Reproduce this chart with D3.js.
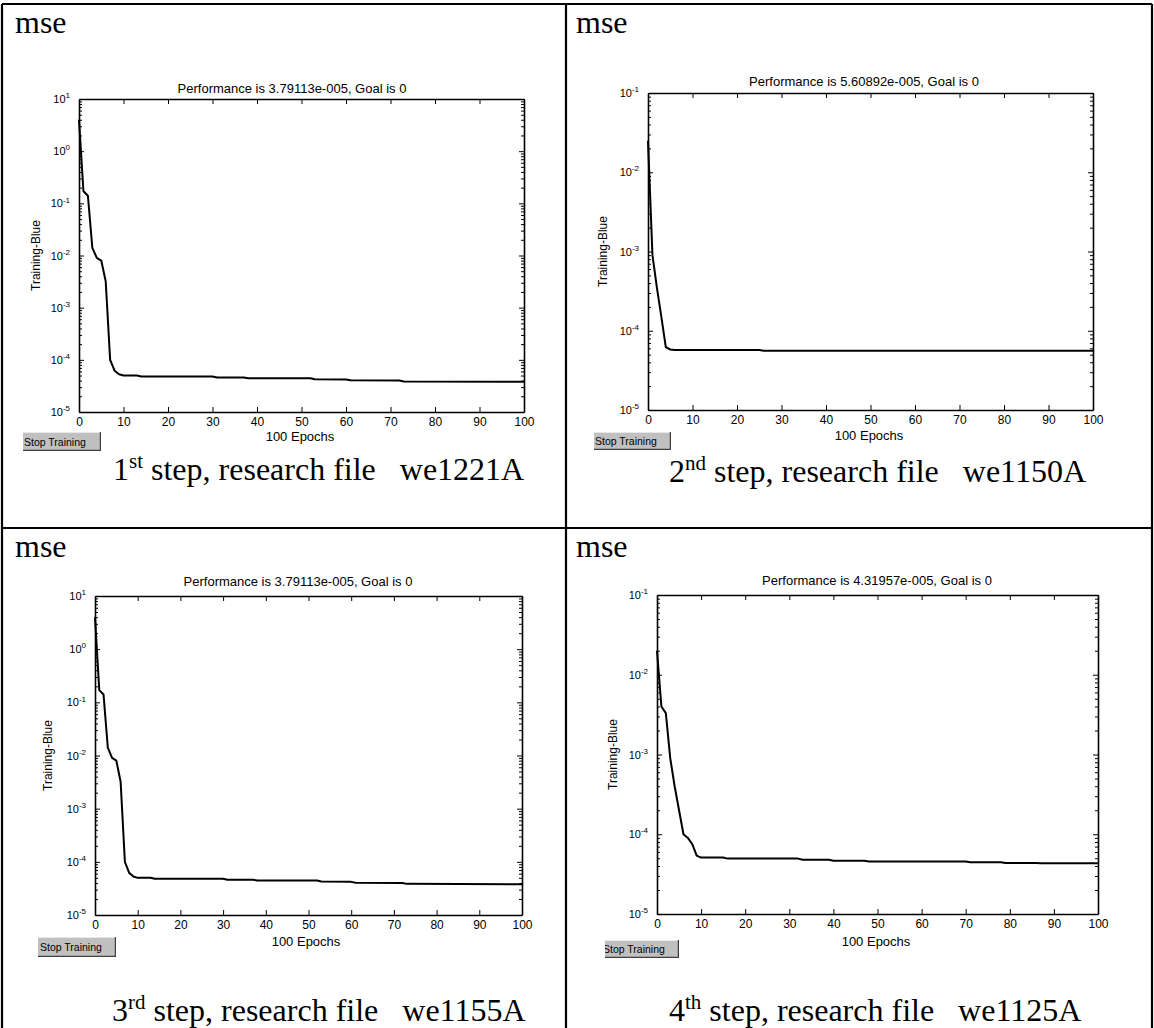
<!DOCTYPE html>
<html>
<head>
<meta charset="utf-8">
<script src="https://cdn.jsdelivr.net/npm/d3@7"></script>
<style>
  body { margin: 0; background: #fff; }
  text { font-family: 'Liberation Sans', Arial, sans-serif; }
  .serif { font-family: 'Liberation Serif', 'Times New Roman', serif; }
</style>
</head>
<body>
<div class="container"></div>
<script>
const WIDTH = 1154;
const HEIGHT = 1028;

// x axis of every plot
const epochTicks = [0, 10, 20, 30, 40, 50, 60, 70, 80, 90, 100];

// y ranges (log)
const yRange1 = [1e-5, 1e1];
const yRange2 = [1e-5, 1e-1];
const yRange3 = [1e-5, 1e1];
const yRange4 = [1e-5, 1e-1];

// training curves (epoch, mse)
const epochs1 = [0, 1, 2, 3, 4, 5, 6, 7, 8, 9, 10, 13, 14, 30, 31, 37, 38, 52, 53, 60, 61, 72, 73, 100];
const perf1 = [4, 0.17, 0.14, 0.014, 0.009, 0.008, 0.0032, 1.0e-4, 6.2e-5, 5.3e-5, 5.0e-5, 5.0e-5, 4.8e-5, 4.8e-5,
  4.6e-5, 4.6e-5, 4.45e-5, 4.45e-5, 4.25e-5, 4.2e-5, 4.05e-5, 4.0e-5, 3.85e-5, 3.79e-5];

const epochs2 = [0, 1, 2, 3, 4, 5, 6, 25, 26, 100];
const perf2 = [0.025, 9e-4, 3.5e-4, 1.5e-4, 6.2e-5, 5.8e-5, 5.7e-5, 5.7e-5, 5.61e-5, 5.61e-5];

const epochs3 = [0, 1, 2, 3, 4, 5, 6, 7, 8, 9, 10, 13, 14, 30, 31, 37, 38, 52, 53, 60, 61, 72, 73, 100];
const perf3 = [4, 0.17, 0.14, 0.014, 0.009, 0.008, 0.0032, 1.0e-4, 6.2e-5, 5.3e-5, 5.0e-5, 5.0e-5, 4.8e-5, 4.8e-5,
  4.6e-5, 4.6e-5, 4.45e-5, 4.45e-5, 4.25e-5, 4.2e-5, 4.05e-5, 4.0e-5, 3.85e-5, 3.79e-5];

const epochs4 = [0, 1, 2, 3, 4, 5, 6, 7, 8, 9, 10, 15, 16, 32, 33, 39, 40, 47, 48, 70, 71, 78, 79, 86, 87, 100];
const perf4 = [0.02, 0.004, 0.0033, 9e-4, 4e-4, 2e-4, 1.0e-4, 9e-5, 7.5e-5, 5.4e-5, 5.1e-5, 5.1e-5, 4.95e-5, 4.95e-5,
  4.8e-5, 4.8e-5, 4.65e-5, 4.65e-5, 4.55e-5, 4.55e-5, 4.45e-5, 4.45e-5, 4.35e-5, 4.35e-5, 4.32e-5, 4.32e-5];

// texts
const titles = ['Performance is 3.79113e-005, Goal is 0', 'Performance is 5.60892e-005, Goal is 0',
  'Performance is 3.79113e-005, Goal is 0', 'Performance is 4.31957e-005, Goal is 0'];
const ordinals = ['1', '2', '3', '4'];
const suffixes = ['st', 'nd', 'rd', 'th'];
const files = ['we1221A', 'we1150A', 'we1155A', 'we1125A'];

// layout of each cell (pixels)
var layout = [
  {mse: [15, 33], plot: [79, 99, 524, 412], titleX: 292, titleY: 93, ylabX: 40, xlabX: 300, xlabY: 441,
   btn: [23, 432, 78, 19, 0], cap: [113, 480]},
  {mse: [576, 33], plot: [648, 93, 1093, 410], titleX: 864, titleY: 86, ylabX: 607, xlabX: 869, xlabY: 440,
   btn: [594, 432, 77, 18, 0], cap: [669, 482]},
  {mse: [15, 557], plot: [95, 596, 522, 915], titleX: 298, titleY: 586, ylabX: 52, xlabX: 306, xlabY: 946,
   btn: [38, 937, 78, 20, 1], cap: [112, 1021]},
  {mse: [576, 557], plot: [657, 595, 1098, 914], titleX: 877, titleY: 585, ylabX: 617, xlabX: 876, xlabY: 946,
   btn: [605, 940, 74, 18, -3], cap: [669, 1021]}
];

var display = function () {
  var svg = d3.select('.container').append('svg')
    .attr('width', WIDTH)
    .attr('height', HEIGHT)
  svg.append('rect').attr('width', WIDTH).attr('height', HEIGHT).attr('fill', '#fff')

  drawGrid(svg);

  var series = [[epochs1, perf1, yRange1], [epochs2, perf2, yRange2], [epochs3, perf3, yRange3], [epochs4, perf4, yRange4]];
  series.forEach(function (s, i) {
    drawPanel(svg, i, s[0], s[1], s[2], layout[i]);
  });
}

var drawGrid = function (svg) {
  var g = svg.append('g').attr('stroke', '#000').attr('stroke-width', 2.2)
  g.append('line').attr('x1', 2).attr('y1', 4).attr('x2', 1152).attr('y2', 4)
  g.append('line').attr('x1', 2).attr('y1', 528).attr('x2', 1152).attr('y2', 528)
  g.append('line').attr('x1', 2).attr('y1', 4).attr('x2', 2).attr('y2', HEIGHT)
  g.append('line').attr('x1', 566).attr('y1', 4).attr('x2', 566).attr('y2', HEIGHT)
  g.append('line').attr('x1', 1152).attr('y1', 4).attr('x2', 1152).attr('y2', HEIGHT)
}

var drawPanel = function (svg, i, epochs, perf, yRange, L) {
  var x0 = L.plot[0], y0 = L.plot[1], x1 = L.plot[2], y1 = L.plot[3];
  var x = d3.scaleLinear().domain([0, 100]).range([x0, x1]);
  var y = d3.scaleLog().domain(yRange).range([y1, y0]);

  var lo = Math.round(Math.log10(yRange[0])), hi = Math.round(Math.log10(yRange[1]));
  var majors = d3.range(lo, hi + 1).map(function (k) { return Math.pow(10, k); });
  var minors = [];
  d3.range(lo, hi).forEach(function (k) {
    d3.range(2, 10).forEach(function (m) { minors.push(m * Math.pow(10, k)); });
  });

  // "mse" heading
  svg.append('text').attr('class', 'serif')
    .attr('x', L.mse[0]).attr('y', L.mse[1])
    .attr('font-size', 32)
    .text('mse')

  var g = svg.append('g');

  // bottom axis with labels
  var gb = g.append('g').attr('transform', 'translate(0,' + y1 + ')')
    .call(d3.axisBottom(x).tickValues(epochTicks).tickSizeInner(-5).tickSizeOuter(0).tickPadding(5));
  gb.selectAll('text').attr('font-size', 12).attr('font-family', "'Liberation Sans', Arial, sans-serif").attr('fill', '#000');

  // top axis, ticks only
  g.append('g').attr('transform', 'translate(0,' + y0 + ')')
    .call(d3.axisTop(x).tickValues(epochTicks).tickSizeInner(-5).tickSizeOuter(0).tickFormat(''));

  // left axis: powers of ten
  var gl = g.append('g').attr('transform', 'translate(' + x0 + ',0)')
    .call(d3.axisLeft(y).tickValues(majors).tickSizeInner(-5).tickSizeOuter(0).tickPadding(9)
      .tickFormat(function () { return '10'; }));
  gl.selectAll('text').attr('font-size', 11).attr('font-family', "'Liberation Sans', Arial, sans-serif").attr('fill', '#000')
    .append('tspan').attr('dy', '-0.6em').attr('font-size', 8)
    .text(function (d) { return Math.round(Math.log10(d)); });
  g.append('g').attr('transform', 'translate(' + x0 + ',0)')
    .call(d3.axisLeft(y).tickValues(minors).tickSizeInner(-3).tickSizeOuter(0).tickFormat(''))
    .select('.domain').remove();

  // right axis, ticks only
  g.append('g').attr('transform', 'translate(' + x1 + ',0)')
    .call(d3.axisRight(y).tickValues(majors).tickSizeInner(-5).tickSizeOuter(0).tickFormat(''));
  g.append('g').attr('transform', 'translate(' + x1 + ',0)')
    .call(d3.axisRight(y).tickValues(minors).tickSizeInner(-3).tickSizeOuter(0).tickFormat(''))
    .select('.domain').remove();

  g.selectAll('.domain').attr('stroke', '#000').attr('stroke-width', 1.6);
  g.selectAll('.tick line').attr('stroke', '#000').attr('stroke-width', 1);

  // training curve
  var line = d3.line()
    .x(function (d, j) { return x(epochs[j]); })
    .y(function (d) { return y(d); });
  svg.append('path')
    .datum(perf)
    .attr('d', line)
    .attr('fill', 'none')
    .attr('stroke', '#000')
    .attr('stroke-width', 2)
    .attr('stroke-linejoin', 'round')

  // title and axis labels
  svg.append('text')
    .attr('x', L.titleX).attr('y', L.titleY)
    .attr('text-anchor', 'middle').attr('font-size', 13)
    .text(titles[i])
  svg.append('text')
    .attr('transform', 'translate(' + L.ylabX + ',' + ((y0 + y1) / 2) + ') rotate(-90)')
    .attr('text-anchor', 'middle').attr('font-size', 12)
    .text('Training-Blue')
  svg.append('text')
    .attr('x', L.xlabX).attr('y', L.xlabY)
    .attr('text-anchor', 'middle').attr('font-size', 13)
    .text('100 Epochs')

  drawButton(svg, i, L.btn);

  // caption
  var cap = svg.append('text').attr('class', 'serif')
    .attr('x', L.cap[0]).attr('y', L.cap[1])
    .attr('font-size', 32)
    .style('white-space', 'pre')
  cap.append('tspan').text(ordinals[i])
  cap.append('tspan').attr('font-size', 21).attr('dy', -12).text(suffixes[i])
  cap.append('tspan').attr('dy', 12).text(' step, research file   ' + files[i])
}

var drawButton = function (svg, i, b) {
  var bx = b[0], by = b[1], bw = b[2], bh = b[3];
  svg.append('clipPath').attr('id', 'btn' + i)
    .append('rect').attr('x', bx).attr('y', by).attr('width', bw).attr('height', bh)
  var g = svg.append('g').attr('clip-path', 'url(#btn' + i + ')')
  g.append('rect')
    .attr('x', bx).attr('y', by).attr('width', bw).attr('height', bh)
    .attr('fill', '#c0c0c0')
  g.append('polyline')
    .attr('points', (bx) + ',' + (by + bh - 0.5) + ' ' + (bx + bw - 0.5) + ',' + (by + bh - 0.5) + ' ' + (bx + bw - 0.5) + ',' + by)
    .attr('fill', 'none').attr('stroke', '#404040').attr('stroke-width', 1.5)
  g.append('polyline')
    .attr('points', (bx) + ',' + (by + 0.5) + ' ' + (bx + bw - 1.5) + ',' + (by + 0.5))
    .attr('fill', 'none').attr('stroke', '#e8e8e8').attr('stroke-width', 1)
  g.append('text')
    .attr('x', bx + 1 + b[4]).attr('y', by + bh / 2 + 4)
    .attr('font-size', 10.5)
    .text('Stop Training')
}

window.onload = display;
</script>
</body>
</html>
